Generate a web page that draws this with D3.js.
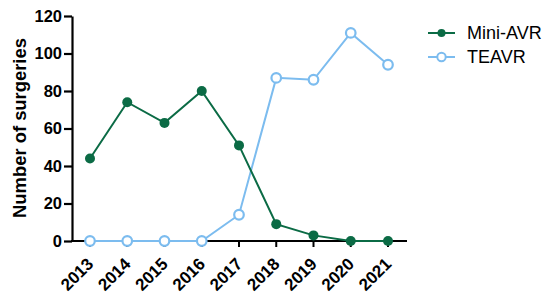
<!DOCTYPE html>
<html><head><meta charset="utf-8">
<script src="https://cdn.jsdelivr.net/npm/d3@7"></script>
<style>body{margin:0;background:#fff}svg{font-family:"Liberation Sans",Arial,sans-serif}</style>
</head><body><svg id="c" width="550" height="303"></svg>
<script>
const years = ["2013","2014","2015","2016","2017","2018","2019","2020","2021"];
const miniAVR = [44,74,63,80,51,9,3,0,0];
const teavr = [0,0,0,0,14,87,86,111,94];
const yTicks = [0,20,40,60,80,100,120];
const seriesNames = ["Mini-AVR","TEAVR"];
const green = "#0b6b45", blue = "#7cbcef";

const svg = d3.select("#c");
const x = d3.scalePoint().domain(years).range([90, 388]);
const y = d3.scaleLinear().domain([0,120]).range([241,16]);

// axes
const yAx = svg.append("g").attr("transform","translate(72,0)")
  .call(d3.axisLeft(y).tickValues(yTicks).tickSize(8).tickSizeOuter(0).tickPadding(2));
yAx.select(".domain").attr("stroke","#000").attr("stroke-width",2.2);
yAx.selectAll(".tick line").attr("stroke","#000").attr("stroke-width",2.2);
yAx.selectAll("text").attr("font-size",16.5).attr("font-weight","bold").attr("fill","#000");

const xAx = svg.append("g").attr("transform","translate(0,241)");
xAx.append("line").attr("x1",71).attr("x2",407).attr("stroke","#000").attr("stroke-width",2.2);
xAx.selectAll("line.t").data(years).join("line").attr("class","t")
  .attr("x1",d=>x(d)).attr("x2",d=>x(d)).attr("y1",0).attr("y2",6)
  .attr("stroke","#000").attr("stroke-width",2);
xAx.selectAll("text").data(years).join("text")
  .attr("transform",d=>`translate(${x(d)+4.5},24) rotate(-45)`)
  .attr("text-anchor","end")
  .attr("font-size",17).attr("font-weight","bold").text(d=>d);

svg.append("text").attr("transform","translate(26,128) rotate(-90)")
  .attr("text-anchor","middle").attr("font-size",18.4).attr("font-weight","bold")
  .text("Number of surgeries");

const line = d3.line().x((d,i)=>x(years[i])).y(d=>y(d));
svg.append("path").datum(teavr).attr("d",line).attr("fill","none").attr("stroke",blue).attr("stroke-width",2);
svg.append("path").datum(miniAVR).attr("d",line).attr("fill","none").attr("stroke",green).attr("stroke-width",2);

svg.selectAll("circle.b").data(teavr).join("circle").attr("class","b")
  .attr("cx",(d,i)=>x(years[i])).attr("cy",d=>y(d)).attr("r",4.8)
  .attr("fill","#fff").attr("stroke",blue).attr("stroke-width",2.2);
svg.selectAll("circle.g").data(miniAVR).join("circle").attr("class","g")
  .attr("cx",(d,i)=>x(years[i])).attr("cy",d=>y(d)).attr("r",5)
  .attr("fill",green);

// legend
const lg = svg.append("g");
[[seriesNames[0],green,true],[seriesNames[1],blue,false]].forEach((s,i)=>{
  const yy = 33 + i*24;
  lg.append("line").attr("x1",428).attr("x2",455).attr("y1",yy).attr("y2",yy).attr("stroke",s[1]).attr("stroke-width",2);
  if(s[2]) lg.append("circle").attr("cx",441.5).attr("cy",yy).attr("r",4).attr("fill",s[1]);
  else lg.append("circle").attr("cx",441.5).attr("cy",yy).attr("r",4.2).attr("fill","#fff").attr("stroke",s[1]).attr("stroke-width",2);
  lg.append("text").attr("x",467).attr("y",yy).attr("dy","0.36em").attr("font-size",18).text(s[0]);
});
</script></body></html>
